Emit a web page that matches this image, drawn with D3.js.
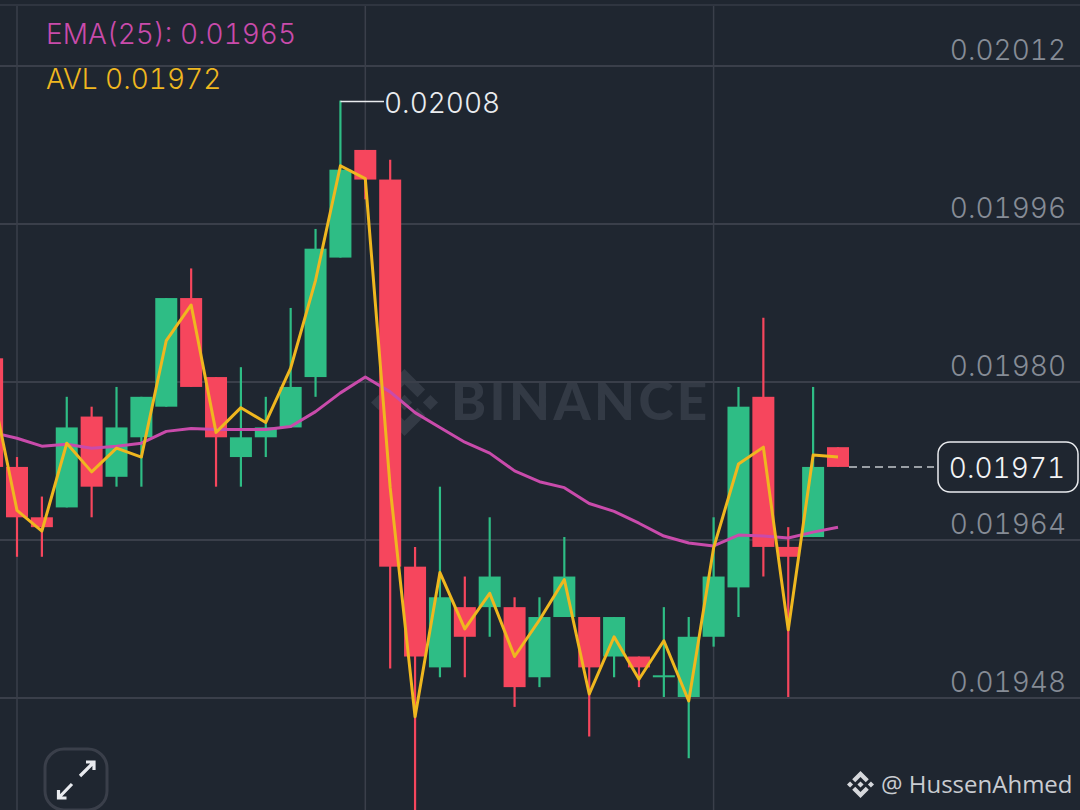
<!DOCTYPE html>
<html lang="en">
<head>
<meta charset="UTF-8">
<title>Candles</title>
<script src="https://cdn.jsdelivr.net/npm/d3@7"></script>
<style>
  html, body { margin: 0; padding: 0; background: #1f2630; }
  svg { display: block; font-family: 'Inter', sans-serif; font-weight: 300; font-variant-numeric: tabular-nums; }
</style>
</head>
<body>
<svg id="chart" width="1080" height="810"></svg>
<script>
// candle number -1 is the one cut off by the left edge
const candleIds = d3.range(-1, 34);
const opens  = [0.019824,0.019714,0.019663,0.019673,0.019765,0.019704,0.019744,0.019775,0.019885,0.019805,0.019724,0.019744,0.019754,0.019805,0.019926,0.020035,0.020005,0.019613,0.019511,0.019572,0.019572,0.019572,0.019501,0.019562,0.019562,0.019522,0.019522,0.019501,0.019481,0.019542,0.019592,0.019785,0.019633,0.019643,0.019734];
const closes = [0.019714,0.019663,0.019653,0.019754,0.019694,0.019754,0.019785,0.019885,0.019795,0.019744,0.019744,0.019754,0.019795,0.019935,0.020015,0.020005,0.019613,0.019522,0.019582,0.019542,0.019603,0.019491,0.019562,0.019603,0.019511,0.019562,0.019511,0.019503,0.019542,0.019603,0.019775,0.019633,0.019623,0.019714,0.019714];
const highs  = [0.019824,0.019724,0.019684,0.019785,0.019775,0.019795,0.019785,0.019885,0.019915,0.019805,0.019815,0.019785,0.019875,0.019955,0.020085,0.020035,0.020025,0.019633,0.019694,0.019603,0.019663,0.019582,0.019582,0.019643,0.019562,0.019562,0.019522,0.019572,0.019562,0.019663,0.019795,0.019865,0.019653,0.019795,0.019734];
const lows   = [0.019714,0.019623,0.019623,0.019673,0.019663,0.019694,0.019694,0.019775,0.019795,0.019694,0.019694,0.019724,0.019754,0.019785,0.019926,0.019985,0.019510,0.019362,0.019501,0.019501,0.019542,0.019471,0.019491,0.019562,0.019441,0.019501,0.019491,0.019481,0.019419,0.019532,0.019562,0.019603,0.019481,0.019643,0.019714];
const ema25  = [0.019749,0.019743,0.019735,0.019737,0.019733,0.019735,0.019738,0.019750,0.019753,0.019752,0.019752,0.019752,0.019755,0.019770,0.019789,0.019805,0.019790,0.019769,0.019754,0.019739,0.019728,0.019710,0.019699,0.019693,0.019677,0.019669,0.019657,0.019644,0.019637,0.019634,0.019645,0.019644,0.019642,0.019648,0.019653];
const avl    = [0.019793,0.019670,0.019649,0.019738,0.019709,0.019733,0.019724,0.019842,0.019878,0.019749,0.019774,0.019759,0.019814,0.019903,0.020019,0.020006,0.019693,0.019461,0.019607,0.019550,0.019586,0.019522,0.019559,0.019600,0.019484,0.019542,0.019499,0.019538,0.019477,0.019632,0.019717,0.019734,0.019549,0.019726,0.019724];

const priceTicks = [0.02012, 0.01996, 0.0198, 0.01964, 0.01948];
const timeGridCandles = [0, 14, 28];
const highLabel = "0.02008";
const lastLabel = "0.01971";
const emaLabel = "EMA(25): 0.01965";
const avlLabel = "AVL 0.01972";

const UP = "#2ebd85", DOWN = "#f6465d";
const GRID = "#3a3f4a";
const TXT = 28;

const svg = d3.select("#chart");
const candles = candleIds.map((id, i) => ({ id, open: opens[i], close: closes[i], high: highs[i], low: lows[i] }));

const x = d3.scaleLinear().domain([0, 33]).range([17, 838]);
const y = d3.scaleLinear().domain([0.01948, 0.02012]).range([698, 66]);

// binance mark, 126.61 units square
const logoPaths = [
  "M38.73,53.2,63.31,28.62,87.9,53.21l14.3-14.3L63.31,0,24.43,38.88Z",
  "M0,63.31,14.3,49l14.3,14.3-14.3,14.3Z",
  "M38.73,73.41,63.31,98,87.9,73.4l14.31,14.29L63.31,126.61,24.43,87.73Z",
  "M98,63.31l14.3-14.3,14.3,14.3-14.3,14.3Z",
  "M77.83,63.3,63.31,48.78,48.81,63.28,63.31,77.83Z"
];
function logo(px, py, size, color) {
  const g = svg.append("g").attr("transform", `translate(${px},${py}) scale(${size / 126.61})`);
  g.selectAll("path").data(logoPaths).enter().append("path").attr("d", d => d).attr("fill", color);
}

///////// BACKGROUND + WATERMARK
svg.append("rect").attr("width", 1080).attr("height", 810).attr("fill", "#1f2630");
svg.append("line").attr("x1", 0).attr("x2", 1080).attr("y1", 5).attr("y2", 5)
  .attr("stroke", "#2f3540").attr("stroke-width", 2);

logo(371, 369, 67, "#333a45");
svg.append("text").attr("x", 451).attr("y", 420)
  .attr("font-family", "Lato, sans-serif")
  .attr("font-size", 53).attr("font-weight", 900).attr("letter-spacing", 3.4)
  .attr("fill", "#333a45").text("BINANCE");

///////// GRID
svg.append("g").selectAll("line").data(priceTicks).enter().append("line")
  .attr("x1", 0).attr("x2", 1080)
  .attr("y1", d => y(d)).attr("y2", d => y(d))
  .attr("stroke", GRID).attr("stroke-width", 2);

svg.append("g").selectAll("line").data(timeGridCandles).enter().append("line")
  .attr("x1", d => x(d)).attr("x2", d => x(d))
  .attr("y1", 6).attr("y2", 810)
  .attr("stroke", GRID).attr("stroke-width", 1.5);

// price axis, labels sit above their grid line
const axis = d3.axisLeft(y).tickValues(priceTicks).tickSize(0).tickPadding(0).tickFormat(d3.format(".5f"));
const axisG = svg.append("g").attr("transform", "translate(1066,0)").call(axis);
axisG.select(".domain").remove();
axisG.selectAll("text")
  .attr("dy", "-7")
  .attr("font-family", "Inter, sans-serif")
  .attr("font-size", TXT).attr("fill", "#868c96");

///////// CANDLES
const bodyW = 22;
const g = svg.append("g");
g.selectAll("line").data(candles).enter().append("line")
  .attr("x1", d => x(d.id)).attr("x2", d => x(d.id))
  .attr("y1", d => y(d.high)).attr("y2", d => y(d.low))
  .attr("stroke-width", 2.2)
  .attr("stroke", d => d.close >= d.open ? UP : DOWN);

g.selectAll("rect").data(candles).enter().append("rect")
  .attr("x", d => x(d.id) - bodyW / 2).attr("width", bodyW)
  .attr("y", d => y(Math.max(d.open, d.close)))
  .attr("height", d => Math.max(2, Math.abs(y(d.open) - y(d.close))))
  .attr("fill", d => d.close >= d.open ? UP : DOWN);

///////// LINES
const line = d3.line().x((d, i) => x(candleIds[i])).y(d => y(d));
svg.append("path").attr("d", line(ema25)).attr("fill", "none")
  .attr("stroke", "#c94bab").attr("stroke-width", 3).attr("stroke-linejoin", "round");
svg.append("path").attr("d", line(avl)).attr("fill", "none")
  .attr("stroke", "#efb71f").attr("stroke-width", 3).attr("stroke-linejoin", "round");

///////// LEGEND
svg.append("text").attr("x", 46).attr("y", 44).attr("font-size", TXT).attr("fill", "#c94bab").text(emaLabel);
svg.append("text").attr("x", 46).attr("y", 89).attr("font-size", TXT).attr("fill", "#efb71f").text(avlLabel);

///////// HIGH CALLOUT
const topCandle = candles[14];
svg.append("path")
  .attr("d", `M${x(topCandle.id)},${y(topCandle.high) + 1}H384`)
  .attr("fill", "none").attr("stroke", "#eaecef").attr("stroke-width", 1.5);
svg.append("text").attr("x", 384).attr("y", 113).attr("font-size", TXT).attr("fill", "#eaecef").text(highLabel);

///////// LAST PRICE
const last = candles[candles.length - 1];
svg.append("line").attr("x1", x(last.id) + bodyW / 2).attr("x2", 934)
  .attr("y1", y(last.close)).attr("y2", y(last.close))
  .attr("stroke", "#c4c7cc").attr("stroke-width", 1.5).attr("stroke-dasharray", "8,5");
svg.append("rect").attr("x", 938).attr("y", 442).attr("width", 140).attr("height", 50).attr("rx", 12)
  .attr("fill", "#1f2630").attr("stroke", "#eaecef").attr("stroke-width", 1.5);
svg.append("text").attr("x", 1065).attr("y", 478).attr("text-anchor", "end")
  .attr("font-size", TXT).attr("fill", "#f2f3f5").text(lastLabel);

///////// FULLSCREEN BUTTON
svg.append("rect").attr("x", 45).attr("y", 749).attr("width", 62).attr("height", 61).attr("rx", 19)
  .attr("fill", "none").attr("stroke", "#3a3f4a").attr("stroke-width", 3);
svg.append("path")
  .attr("d", "M80,776L94,762M86,762H94V770M72,784L58.5,798M58.5,790V798H66.5")
  .attr("fill", "none").attr("stroke", "#e8eaee").attr("stroke-width", 3.2);

///////// CREDIT
logo(847, 771, 27, "#d6d8dc");
svg.append("text").attr("x", 881).attr("y", 793)
  .attr("font-family", "'Open Sans', sans-serif").attr("font-weight", 400).attr("font-size", 24)
  .attr("fill", "#c9ccd1").text("@ HussenAhmed");
</script>
</body>
</html>
